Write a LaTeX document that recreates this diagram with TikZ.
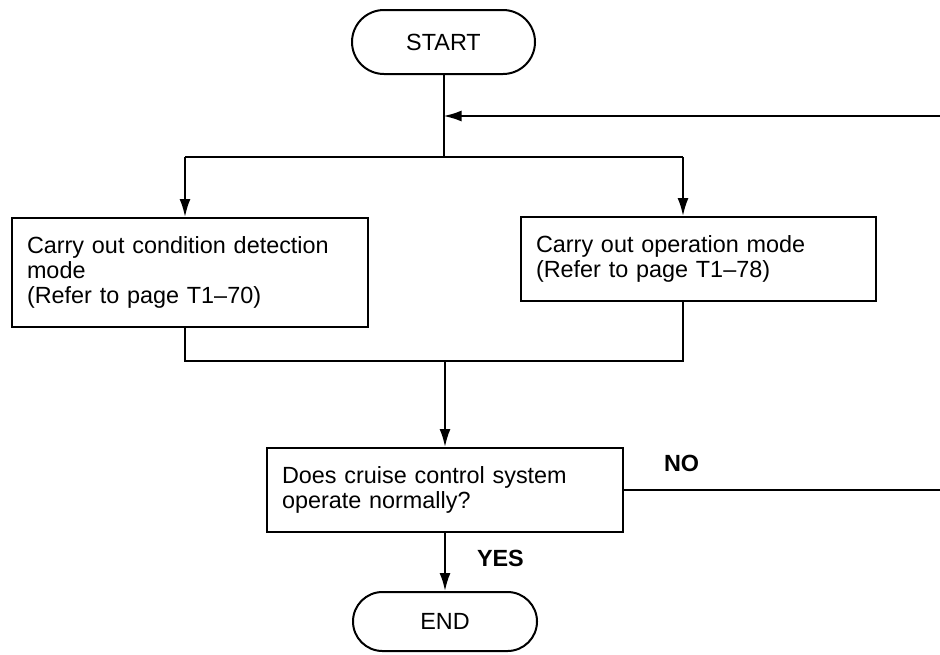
\documentclass[tikz,border=0pt]{standalone}
\usepackage{fontspec}
\setmainfont{Liberation Sans}
\usetikzlibrary{arrows.meta}
\begin{document}
\begin{tikzpicture}[x=0.5pt,y=-0.5pt, line width=1pt,
  every node/.style={font=\fontsize{11.7}{12.5}\selectfont},
  procbox/.style={draw, rectangle, align=left, inner xsep=7.5pt, inner ysep=0pt, text width=163pt, minimum width=178pt},
  term/.style={draw, rectangle, inner sep=0pt},
  arr/.style={-{Latex[length=9pt,width=5.5pt]}},
  lbl/.style={font=\fontsize{11.7}{12.5}\selectfont\bfseries, inner sep=0pt}]
\useasboundingbox (0,0) rectangle (940,654);
% nodes
\node[term, minimum width=91.5pt, minimum height=32pt, rounded corners=16pt] (start) at (443.5,42) {START};
\node[procbox, minimum height=54.5pt] (left) at (190,272.5) {Carry out condition detection\\mode\\(Refer to page T1--70)};
\node[procbox, minimum height=42pt, text width=162.5pt, minimum width=177.5pt] (right) at (698.5,259) {Carry out operation mode\\(Refer to page T1--78)};
\node[procbox, minimum height=42pt] (dec) at (445,490) {Does cruise control system\\operate normally?};
\node[term, minimum width=92pt, minimum height=29.5pt, rounded corners=14.75pt] (end) at (445,621.5) {END};
\node[lbl, anchor=west] (yes) at (476,558) {YES};
\node[lbl, anchor=west] (no) at (663,463) {NO};
% helper coordinates
\coordinate (splitL) at (185,157);
\coordinate (splitR) at (683,157);
\coordinate (merge) at (445,361);
\coordinate (mergeL) at (185,361);
\coordinate (mergeR) at (683,361);
\coordinate (fbR) at (940,116);
\coordinate (noR) at (940,490);
% connectors
\draw (start.south) -- (start.south |- splitL);
\draw (splitL) -- (splitR);
\draw[arr] (splitL) -- (splitL |- left.north);
\draw[arr] (splitR) -- (splitR |- right.north);
\draw (splitL |- left.south) -- (mergeL) -- (mergeR) -- (splitR |- right.south);
\draw[arr] (merge) -- (dec.north);
\draw[arr] (dec.south) -- (end.north);
\draw (dec.east) -- (noR);
\draw[arr] (fbR) -- (fbR -| start.south);
\end{tikzpicture}
\end{document}
